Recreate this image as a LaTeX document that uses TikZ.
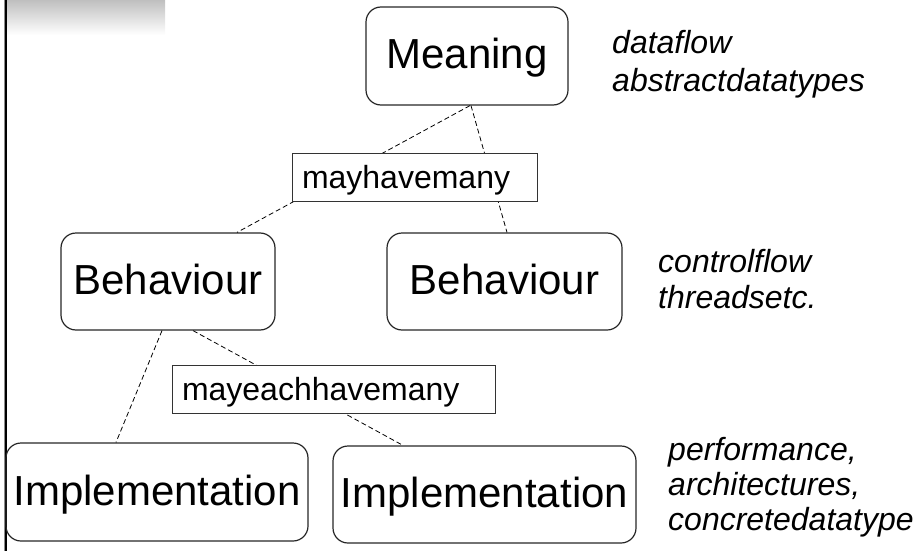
\documentclass[tikz,border=0pt]{standalone}
\usepackage{fontspec}
\setmainfont{Liberation Sans}
\begin{document}
\begin{tikzpicture}[x=1pt,y=-1pt,
  bigbox/.style={draw=black!85, line width=1.2pt, rounded corners=15pt,
    font=\fontsize{42}{48}\selectfont, text height=30pt, text depth=4pt, inner sep=0pt},
  tagbox/.style={draw=black!80, line width=1pt, fill=white,
    font=\fontsize{32}{36}\selectfont, align=left,
    text height=24pt, text depth=2pt, inner xsep=10pt, inner ysep=11pt},
  note/.style={align=left, anchor=base west, inner sep=0pt},
  link/.style={line width=0.8pt, dash pattern=on 5pt off 3pt}
]
\useasboundingbox (0,0) rectangle (915,551);

% header strip and left rule
\shade[top color=black!25, bottom color=white] (7,0) rectangle (165,35);
\draw[black!45, line width=0.8pt] (4,0) -- (4,551);
\draw[line width=2.2pt] (6,0) -- (6,551);

% levels
\node[bigbox, minimum width=202pt, minimum height=98pt] (meaning) at (467,56) {Meaning};
\node[bigbox, minimum width=214pt, minimum height=97pt] (behl) at (168,281.5) {Behaviour};
\node[bigbox, minimum width=235pt, minimum height=97pt] (behr) at (504.5,281.5) {Behaviour};
\node[bigbox, minimum width=302pt, minimum height=98pt] (impll) at (157,492) {Implementation};
\node[bigbox, minimum width=303pt, minimum height=97pt] (implr) at (484.5,494.5) {Implementation};

% relations
\draw[link] ([xshift=3pt]meaning.south) -- ([xshift=69pt]behl.north);
\draw[link] ([xshift=4pt]meaning.south) -- ([xshift=2.5pt]behr.north);
\draw[link] ([xshift=-6pt]behl.south) -- ([xshift=-41pt]impll.north);
\draw[link] ([xshift=25pt]behl.south) -- ([xshift=-81.5pt]implr.north);

% relation labels
\node[tagbox, text width=225pt] (tag1) at (414.5,177) {mayhavemany};
\node[tagbox, text width=303pt] (tag2) at (333.5,389) {mayeachhavemany};

% notes (anchored on the baseline of their last line)
\node[note, font=\fontsize{32}{38}\selectfont\itshape] (n1) at (612,91)
  {dataflow\\abstractdatatypes};
\node[note, font=\fontsize{32}{36}\selectfont\itshape] (n2) at (658,308)
  {controlflow\\threadsetc.};
\node[note, font=\fontsize{32}{35}\selectfont\itshape] (n3) at (668,530)
  {performance,\\architectures,\\concretedatatype};
\end{tikzpicture}
\end{document}
